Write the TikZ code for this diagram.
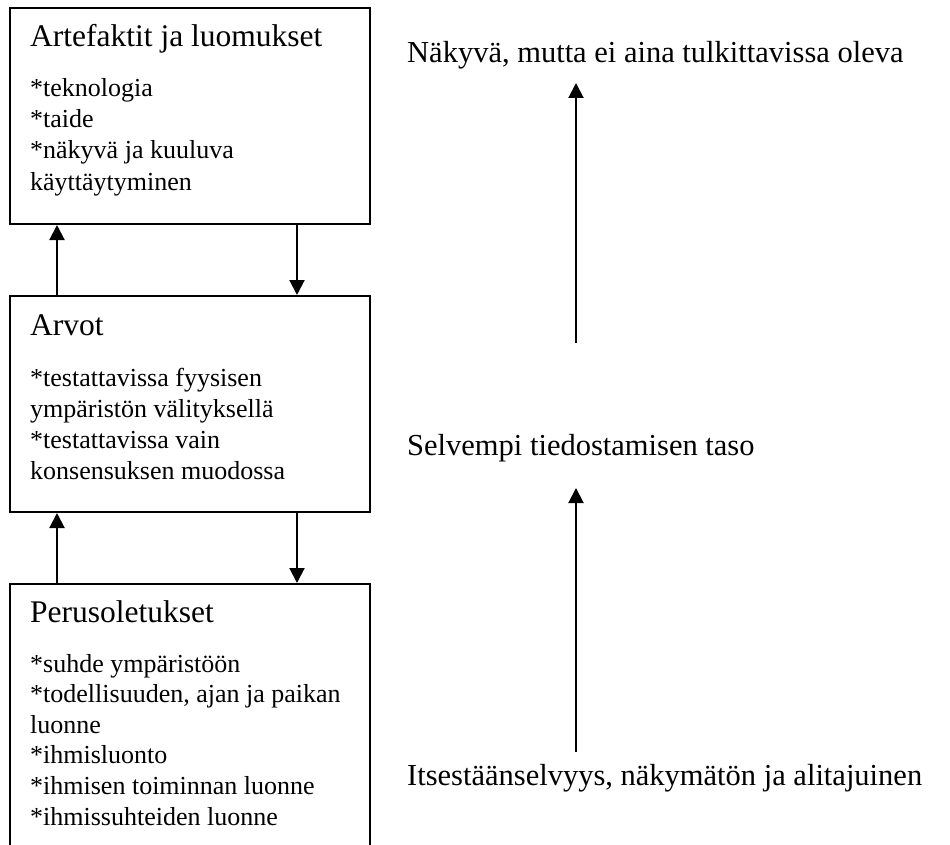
\documentclass[tikz,border=0pt]{standalone}
\usepackage{fontspec}
\setmainfont{Liberation Serif}
\usetikzlibrary{arrows.meta}
\begin{document}
\begin{tikzpicture}[x=1pt,y=-1pt,
  frame/.style={draw, line width=2pt, inner sep=0pt, anchor=north west,
    minimum width=360pt},
  head/.style={font=\fontsize{31.5}{36}\selectfont, anchor=base west, inner sep=0pt},
  level/.style={font=\fontsize{30.5}{36}\selectfont, anchor=base west, inner sep=0pt},
  item/.style={font=\fontsize{26}{31}\selectfont, anchor=base west, inner sep=0pt},
  arr/.style={line width=2pt, -{Triangle[length=15pt,width=15pt]}}]
\useasboundingbox (0,0) rectangle (950,845);
\clip (0,0) rectangle (950,845);

% the three layers
\node[frame, minimum height=216pt] (b1) at (9,7) {};
\node[frame, minimum height=216pt] (b2) at (9,295) {};
\node[frame, minimum height=290pt] (b3) at (9,583) {};

% layer titles
\node[head] (h1) at (30,47) {Artefaktit ja luomukset};
\node[head] (h2) at (30,335) {Arvot};
\node[head] (h3) at (30,622) {Perusoletukset};

% layer contents
\foreach \t [count=\i] in {{*teknologia},{*taide},{*näkyvä ja kuuluva},{käyttäytyminen}}
  \node[item] (i1-\i) at (30,{97+31*(\i-1)}) {\t};
\foreach \t [count=\i] in {{*testattavissa fyysisen},{ympäristön välityksellä},{*testattavissa vain},{konsensuksen muodossa}}
  \node[item] (i2-\i) at (30,{386+31*(\i-1)}) {\t};
\foreach \t [count=\i] in {{*suhde ympäristöön},{*todellisuuden, ajan ja paikan},{luonne},{*ihmisluonto},{*ihmisen toiminnan luonne},{*ihmissuhteiden luonne}}
  \node[item] (i3-\i) at (30,{672+30.6*(\i-1)}) {\t};

% links between the layers
\coordinate (lx) at (57,0);
\coordinate (rx) at (297,0);
\draw[arr] (b2.north -| lx) -- (b1.south -| lx);
\draw[arr] (b1.south -| rx) -- (b2.north -| rx);
\draw[arr] (b3.north -| lx) -- (b2.south -| lx);
\draw[arr] (b2.south -| rx) -- (b3.north -| rx);

% awareness scale
\node[level] (v1) at (407,63) {Näkyvä, mutta ei aina tulkittavissa oleva};
\node[level] (v2) at (407,455) {Selvempi tiedostamisen taso};
\node[level] (v3) at (407,785) {Itsestäänselvyys, näkymätön ja alitajuinen};
\coordinate (s1) at (576,343);
\coordinate (s2) at (576,752);
\draw[arr] (s1) -- (s1 |- 0,83);
\draw[arr] (s2) -- (s2 |- 0,488);
\end{tikzpicture}
\end{document}
